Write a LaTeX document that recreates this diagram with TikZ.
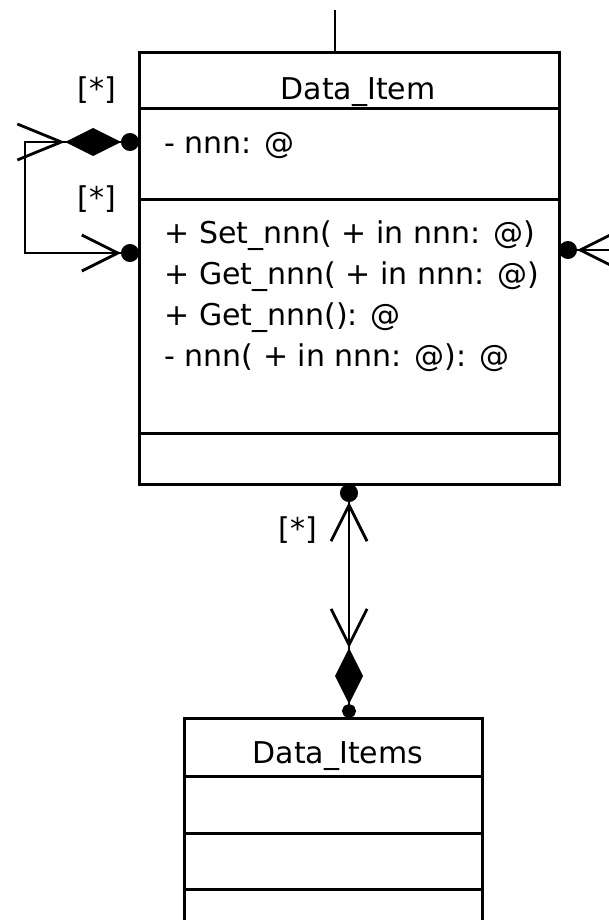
\documentclass[tikz,border=0pt]{standalone}
\usepackage{fontspec}
\setmainfont{DejaVu Sans}
\usetikzlibrary{positioning,arrows.meta}

\tikzset{
  EndDot/.tip={Circle[length=9pt]},
  SmallDot/.tip={Circle[length=7pt]},
  CompDiamond/.tip={Diamond[length=28pt,width=14pt]},
  NavBarb/.tip={Straight Barb[length=18pt,width=18pt]},
  LongBarb/.tip={Straight Barb[length=22pt,width=18pt]},
}

\begin{document}
\begin{tikzpicture}[x=0.5pt, y=-0.5pt, font=\fontsize{15}{18}\selectfont,
    classpart/.style={draw, line width=1.5pt, inner sep=0pt, outer sep=0pt},
    itempart/.style={classpart, minimum width=210pt},
    itemspart/.style={classpart, minimum width=149pt},
    member/.style={anchor=base west, inner sep=0pt},
    mult/.style={inner sep=0pt},
    assoc/.style={line width=1.4pt}]
  \useasboundingbox (0,0) rectangle (609,920);

  % Data_Item
  \node[itempart, minimum height=28pt] (itemHead) at (349,81) {};
  \node[itempart, minimum height=45pt, below=0pt of itemHead] (itemAttr) {};
  \node[itempart, minimum height=117pt, below=0pt of itemAttr] (itemOps) {};
  \node[itempart, minimum height=25.5pt, below=0pt of itemOps] (itemEnd) {};
  \node[anchor=base] (itemTitle) at (358,100) {Data\_Item};
  \node[member] (itemAttr1) at (164,153) {- nnn: @};
  \node[member] (itemOp1) at (164,243) {+ Set\_nnn( + in nnn: @)};
  \node[member] (itemOp2) at (164,284) {+ Get\_nnn( + in nnn: @)};
  \node[member] (itemOp3) at (164,325) {+ Get\_nnn(): @};
  \node[member] (itemOp4) at (164,366) {- nnn( + in nnn: @): @};

  % Data_Items
  \node[itemspart, minimum height=29pt] (itemsHead) at (333,747) {};
  \node[itemspart, minimum height=28.5pt, below=0pt of itemsHead] (itemsPart1) {};
  \node[itemspart, minimum height=28pt, below=0pt of itemsPart1] (itemsPart2) {};
  \node[itemspart, minimum height=28pt, below=0pt of itemsPart2] (itemsPart3) {};
  \node[anchor=base] (itemsTitle) at (338,763) {Data\_Items};

  % multiplicities
  \node[mult] (multTop) at (97,90) {[*]};
  \node[mult] (multLoop) at (97,199) {[*]};
  \node[mult] (multDown) at (298,530) {[*]};

  \coordinate (topEnd) at (335,10);
  \coordinate (loopX) at (25,0);
  \coordinate (attrPort) at ([yshift=6pt]itemAttr.west);
  \coordinate (opsPort) at ([yshift=31.5pt]itemOps.west);
  \coordinate (rightPort) at ([yshift=33pt]itemOps.east);
  \coordinate (rightEnd) at ([xshift=40pt]rightPort);

  \draw[assoc] (topEnd) -- (itemHead.north -| topEnd);
  \draw[assoc, {EndDot[] CompDiamond[] LongBarb[]}-{NavBarb[] EndDot[]}]
    (attrPort) -- (attrPort -| loopX) -- (opsPort -| loopX) -- (opsPort);
  \draw[assoc, -{NavBarb[] EndDot[]}] (rightEnd) -- (rightPort);
  \draw[assoc, {EndDot[] NavBarb[]}-{NavBarb[] CompDiamond[] SmallDot[]}]
    (itemEnd.south) -- (itemsHead.north -| itemEnd.south);
\end{tikzpicture}
\end{document}
